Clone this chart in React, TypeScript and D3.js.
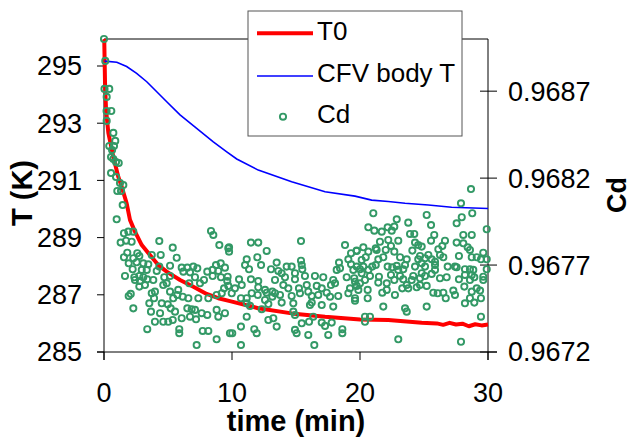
import React from 'react';
import * as d3 from 'd3';

// chart size and plot frame
const W = 634;
const H = 442;
const left = 104;
const right = 488;
const top = 39;
const bottom = 352;

const FONT = "'Liberation Sans', Arial, sans-serif";

const timeTicks = [0, 10, 20, 30];
const tempTicks = [285, 287, 289, 291, 293, 295];
const cdTicks = [0.9672, 0.9677, 0.9682, 0.9687];

// T0 (red), time in min / temperature in K
const t0Time = [0, 0.02, 0.08, 0.16, 0.34, 0.73, 1.12, 1.38, 1.77, 2.03, 2.42, 2.95, 3.59, 4.24, 4.9, 5.94, 6.98, 8.02, 8.93, 9.84, 12.05, 14.66, 17.27, 20.0, 22.21, 24.82, 26.0, 26.5, 27.0, 27.5, 28.0, 28.5, 29.0, 29.5, 30.0];
const t0Temp = [295.94, 295.91, 294.41, 293.46, 292.66, 291.82, 291.12, 290.78, 290.2, 289.62, 289.21, 288.74, 288.39, 288.04, 287.81, 287.52, 287.28, 287.03, 286.88, 286.78, 286.53, 286.35, 286.23, 286.14, 286.12, 286.02, 286.0, 285.95, 286.02, 285.96, 285.99, 285.9, 285.97, 285.93, 285.96];

// CFV body T (blue)
const bodyTime = [0.05, 1.0, 1.77, 2.55, 3.34, 4.12, 4.9, 5.94, 7.24, 8.54, 9.59, 10.37, 12.05, 14.66, 17.27, 19.61, 20.91, 22.21, 23.52, 25.34, 27.16, 30.0];
const bodyTemp = [295.17, 295.13, 294.98, 294.74, 294.45, 294.1, 293.75, 293.29, 292.82, 292.35, 292.0, 291.75, 291.36, 290.95, 290.6, 290.45, 290.31, 290.26, 290.2, 290.14, 290.06, 290.02];

// Cd (green circles), [time, Cd]
const cdData: [number, number][] = [
  [0, 0.969], [0.1, 0.968874], [0.04, 0.968713], [0.41, 0.968713], [0.21, 0.968667], [0.2, 0.968586], [0.57, 0.968586],
  [0.21, 0.968529], [0.73, 0.96846], [0.88, 0.968414], [0.41, 0.968385], [0.78, 0.968385], [0.63, 0.968362], [0.55, 0.968321],
  [0.73, 0.96831], [1.15, 0.968287], [0.94, 0.968293], [0.55, 0.968229], [0.94, 0.968206], [1.25, 0.968172], [1.04, 0.968126],
  [1.33, 0.968126], [1.51, 0.96816], [1.46, 0.968045], [0.99, 0.967963], [1.56, 0.967883], [1.9, 0.967892], [2.29, 0.967892],
  [1.3, 0.967829], [1.72, 0.96784], [2.16, 0.967834], [4.32, 0.967838], [8.36, 0.967896], [8.54, 0.967873], [5.37, 0.9678],
  [1.82, 0.967771], [2.6, 0.967768], [1.56, 0.967745], [2.29, 0.967739], [2.76, 0.967752], [3.73, 0.967758], [4.43, 0.967758],
  [5.68, 0.967742], [9.01, 0.967815], [9.71, 0.967796], [1.93, 0.96771], [2.55, 0.967716], [3.07, 0.96771], [3.46, 0.967704],
  [2.24, 0.967676], [2.95, 0.967672], [3.34, 0.967672], [4.32, 0.967691], [5.16, 0.967696], [6.07, 0.967685], [6.51, 0.967685],
  [6.98, 0.967691], [7.29, 0.967681], [8.75, 0.9677], [9.12, 0.96771], [8.49, 0.967672], [8.93, 0.967666], [9.45, 0.967685],
  [1.64, 0.967637], [2.37, 0.96763], [2.76, 0.967637], [3.07, 0.96763], [4.12, 0.967666], [6.2, 0.967662], [6.72, 0.967658],
  [8.07, 0.967662], [2.42, 0.967614], [2.81, 0.967608], [3.38, 0.967618], [3.85, 0.967614], [4.71, 0.96763], [5.16, 0.967637],
  [7.11, 0.96763], [8.49, 0.967637], [9.14, 0.96763], [2.76, 0.967576], [3.2, 0.967585], [4.63, 0.967585], [4.9, 0.967595],
  [6.66, 0.967595], [7.5, 0.967595], [7.81, 0.967614], [9.63, 0.967608], [9.38, 0.967566], [3.73, 0.967538], [3.98, 0.967547],
  [2.09, 0.967534], [1.93, 0.967522], [5.16, 0.967547], [5.8, 0.967557], [6.59, 0.967509], [7.37, 0.967509], [8.15, 0.967509],
  [8.8, 0.967528], [9.2, 0.967538], [3.54, 0.96748], [3.91, 0.967509], [4.51, 0.96748], [4.98, 0.967474], [5.41, 0.967509],
  [5.73, 0.967528], [6.15, 0.967518], [2.29, 0.967451], [3.67, 0.967432], [4.38, 0.967423], [5.21, 0.967451], [5.55, 0.967432],
  [6.51, 0.967451], [6.85, 0.967446], [7.11, 0.967442], [7.63, 0.967423], [8.07, 0.967413], [8.8, 0.967442], [8.93, 0.967403],
  [3.98, 0.967374], [4.63, 0.967374], [5.02, 0.967374], [5.37, 0.967384], [6.07, 0.967394], [6.72, 0.967403], [7.19, 0.967388],
  [3.38, 0.967331], [5.88, 0.967331], [5.88, 0.967308], [7.71, 0.967321], [8.15, 0.967321], [8.8, 0.967273], [7.24, 0.96724],
  [9.84, 0.967308],
  [15.39, 0.967838], [11.48, 0.967829], [12.05, 0.967829], [9.77, 0.967802], [9.77, 0.967777], [12.71, 0.967781], [18.83, 0.967815],
  [19.74, 0.967781], [19.3, 0.967768], [11.15, 0.967733], [11.98, 0.967745], [11.02, 0.9677], [11.33, 0.967676], [12.27, 0.9677],
  [13.49, 0.967714], [15.39, 0.967725], [15.45, 0.9677], [18.36, 0.967714], [19.09, 0.967733], [13.05, 0.967676], [13.62, 0.967666],
  [13.88, 0.967653], [14.27, 0.967691], [14.66, 0.967691], [14.92, 0.967653], [15.49, 0.967676], [19.3, 0.967704], [19.48, 0.967672],
  [18.18, 0.967672], [18.44, 0.967681], [9.66, 0.967633], [10.55, 0.967618], [11.48, 0.967618], [12.05, 0.967608], [13.36, 0.967614],
  [14.14, 0.96763], [14.92, 0.967618], [15.7, 0.967637], [16.48, 0.967637], [17.13, 0.96763], [17.91, 0.967614], [18.96, 0.96763],
  [19.55, 0.967624], [9.71, 0.96758], [10.23, 0.967566], [10.76, 0.967585], [12.05, 0.967572], [12.58, 0.967557], [13.15, 0.967547],
  [13.36, 0.967538], [14.01, 0.967585], [14.4, 0.967566], [15.23, 0.967566], [15.84, 0.967585], [16.62, 0.96758], [17.01, 0.967566],
  [17.73, 0.967585], [18.05, 0.967595], [19.22, 0.967566], [19.74, 0.96758], [9.98, 0.967538], [10.7, 0.967509], [11.15, 0.967509],
  [11.54, 0.967538], [12.01, 0.967528], [12.71, 0.967541], [13.15, 0.967518], [13.75, 0.967528], [14.66, 0.967522], [15.31, 0.967538],
  [15.96, 0.967547], [16.23, 0.967522], [16.74, 0.967528], [17.4, 0.967541], [17.66, 0.967518], [18.3, 0.967522], [19.09, 0.967538],
  [19.61, 0.967509], [11.15, 0.96748], [11.41, 0.967465], [12.58, 0.967499], [12.84, 0.967476], [13.88, 0.967484], [14.79, 0.96748],
  [16.23, 0.967484], [16.09, 0.96747], [17.01, 0.96747], [17.91, 0.967461], [12.32, 0.967446], [9.45, 0.967423], [11.15, 0.967403],
  [12.84, 0.967384], [13.23, 0.967394], [14.79, 0.967432], [14.92, 0.967413], [15.45, 0.967365], [16.02, 0.967374], [16.35, 0.967403],
  [17.01, 0.967369], [17.27, 0.96735], [17.79, 0.967369], [10.7, 0.967346], [11.74, 0.967331], [11.93, 0.967308], [13.49, 0.967346],
  [14.92, 0.967327], [15.05, 0.967308], [15.96, 0.967298], [17.52, 0.967298], [18.62, 0.967331], [18.62, 0.967308], [10.02, 0.967308],
  [10.7, 0.96724], [16.43, 0.96724],
  [28.67, 0.968137], [27.89, 0.968055], [28.77, 0.967998], [21.04, 0.967998], [25.21, 0.967988], [22.87, 0.967963], [27.55, 0.96794],
  [27.95, 0.967975], [25.55, 0.96793], [23.77, 0.967944], [29.9, 0.967906], [20.65, 0.967917], [21.12, 0.967898], [21.7, 0.967892],
  [22.16, 0.967917], [22.48, 0.967898], [22.68, 0.967921], [23.91, 0.967879], [24.24, 0.967879], [28.07, 0.967873], [28.73, 0.967873],
  [25.8, 0.967873], [21.56, 0.967834], [22.21, 0.967844], [22.99, 0.96784], [24.3, 0.967829], [24.55, 0.967815], [25.55, 0.96784],
  [26.64, 0.96784], [26.43, 0.96781], [27.55, 0.967829], [28.07, 0.967825], [28.41, 0.967802], [28.59, 0.967787], [19.74, 0.967783],
  [20.26, 0.967802], [20.65, 0.967777], [21.23, 0.967796], [21.3, 0.967787], [22.01, 0.967787], [22.68, 0.967777], [22.42, 0.96781],
  [24.09, 0.967783], [24.82, 0.967806], [26.12, 0.967791], [26.25, 0.967758], [26.51, 0.967745], [25.34, 0.967758], [25.08, 0.967739],
  [27.73, 0.967752], [29.12, 0.967745], [29.63, 0.967771], [29.45, 0.967733], [29.9, 0.967733], [20.13, 0.967729], [20.45, 0.967745],
  [21.43, 0.967733], [21.82, 0.967745], [23.13, 0.967745], [23.65, 0.967733], [24.55, 0.967733], [24.69, 0.967752], [25.6, 0.967733],
  [25.86, 0.967719], [28.73, 0.967745], [19.74, 0.967691], [20.0, 0.967676], [20.26, 0.967691], [20.96, 0.967691], [21.23, 0.9677],
  [20.65, 0.967672], [22.16, 0.967691], [22.52, 0.967687], [22.87, 0.967695], [23.52, 0.9677], [23.38, 0.967676], [22.99, 0.967672],
  [24.3, 0.967691], [24.82, 0.96771], [25.08, 0.967691], [25.86, 0.9677], [25.86, 0.967672], [26.85, 0.967691], [27.42, 0.967691],
  [27.55, 0.967687], [28.2, 0.967676], [28.59, 0.967676], [28.85, 0.967672], [20.13, 0.967653], [20.78, 0.967637], [21.48, 0.967633],
  [22.42, 0.967643], [23.13, 0.967637], [24.16, 0.967637], [24.82, 0.967653], [25.08, 0.967637], [25.6, 0.967649], [28.2, 0.967643],
  [28.73, 0.967643], [29.63, 0.967633], [29.9, 0.967676], [19.61, 0.967604], [20.0, 0.967595], [20.39, 0.967614], [21.43, 0.967599],
  [22.09, 0.967595], [22.68, 0.967614], [23.38, 0.967618], [23.65, 0.967585], [24.04, 0.967614], [24.69, 0.967624], [26.25, 0.967624],
  [26.77, 0.96763], [27.73, 0.967618], [28.59, 0.967614], [28.93, 0.96763], [29.63, 0.967614], [19.87, 0.967557], [20.6, 0.967557],
  [21.74, 0.967541], [22.09, 0.967557], [22.73, 0.967528], [23.3, 0.967566], [23.77, 0.967566], [24.43, 0.967572], [24.69, 0.967585],
  [25.21, 0.96758], [25.73, 0.967541], [26.07, 0.967538], [26.51, 0.967541], [26.7, 0.967509], [27.29, 0.967553], [27.42, 0.967528],
  [28.15, 0.967576], [28.73, 0.967547], [29.12, 0.967566], [29.38, 0.967553], [20.6, 0.967509], [19.61, 0.967495], [28.2, 0.96748],
  [28.59, 0.967509], [28.93, 0.967484], [29.45, 0.967509], [21.82, 0.967461], [23.52, 0.967451], [23.65, 0.967432], [25.21, 0.967461],
  [29.45, 0.967403], [20.39, 0.967403], [20.78, 0.967403], [20.39, 0.967374], [22.99, 0.967273], [27.89, 0.967259],
];

const legendItems = ['T0', 'CFV body T', 'Cd'];

export default function App() {
  const x = d3.scaleLinear([0, 30], [left, right]);
  const yT = d3.scaleLinear([285, 295], [bottom, 66]);
  const yCd = d3.scaleLinear([0.9672, 0.969], [bottom, top]);

  const t0Line = d3
    .line<number>()
    .x((d, i) => x(t0Time[i]))
    .y((d) => yT(d))(t0Temp);
  const bodyLine = d3
    .line<number>()
    .x((d, i) => x(bodyTime[i]))
    .y((d) => yT(d))(bodyTemp);

  const tickFont = 27;
  const green = '#339966';
  const markR = 3.1;
  const markW = 1.9;

  return (
    <svg
      width={W}
      height={H}
      viewBox={`0 0 ${W} ${H}`}
      style={{ position: 'absolute', left: 0, top: 0, background: '#fff' }}
      fontFamily={FONT}
    >
      {/* frame */}
      <line x1={left} x2={right} y1={top} y2={top} stroke="#000" />
      <line x1={left} x2={left} y1={top} y2={360} stroke="#000" />
      <line x1={right} x2={right} y1={top} y2={360} stroke="#000" />
      <line x1={97} x2={497} y1={bottom} y2={bottom} stroke="#000" />

      {/* left axis */}
      {tempTicks.map((t) => (
        <g key={'l' + t}>
          <line x1={97} x2={left} y1={yT(t)} y2={yT(t)} stroke="#000" />
          <text x={82} y={yT(t)} dy="0.35em" textAnchor="end" fontSize={tickFont}>
            {t}
          </text>
        </g>
      ))}

      {/* right axis */}
      {cdTicks.map((c) => (
        <g key={'r' + c}>
          <line x1={480} x2={497} y1={yCd(c)} y2={yCd(c)} stroke="#000" />
          <text x={508} y={yCd(c)} dy="0.35em" fontSize={tickFont}>
            {c.toFixed(4)}
          </text>
        </g>
      ))}

      {/* bottom axis */}
      {timeTicks.map((t) => (
        <g key={'b' + t}>
          <line x1={x(t)} x2={x(t)} y1={bottom} y2={360} stroke="#000" />
          <text x={x(t)} y={402} textAnchor="middle" fontSize={tickFont}>
            {t}
          </text>
        </g>
      ))}

      {/* axis titles */}
      <text x={(left + right) / 2} y={431} textAnchor="middle" fontSize={29} fontWeight="bold">
        time (min)
      </text>
      <text transform="translate(32,193) rotate(-90)" textAnchor="middle" fontSize={29} fontWeight="bold">
        T (K)
      </text>
      <text transform="translate(626,195) rotate(-90)" textAnchor="middle" fontSize={27} fontWeight="bold">
        Cd
      </text>

      {/* series */}
      <path d={t0Line ?? ''} fill="none" stroke="#ff0000" strokeWidth={4} strokeLinejoin="round" />
      <path d={bodyLine ?? ''} fill="none" stroke="#0000ff" strokeWidth={1.6} />
      {cdData.map(([t, c], i) => (
        <circle key={i} cx={x(t)} cy={yCd(c)} r={markR} fill="none" stroke={green} strokeWidth={markW} />
      ))}

      {/* legend */}
      <rect x={248} y={11} width={214} height={125} fill="#fff" stroke="#555" />
      {legendItems.map((name, i) => {
        const cy = [33.3, 76, 116.7][i];
        const base = [40, 82, 123][i];
        return (
          <g key={name}>
            {i === 0 && <line x1={257} x2={313} y1={cy} y2={cy} stroke="#ff0000" strokeWidth={4} />}
            {i === 1 && <line x1={257} x2={313} y1={cy} y2={cy} stroke="#0000ff" strokeWidth={1.6} />}
            {i === 2 && <circle cx={283} cy={cy} r={markR} fill="none" stroke={green} strokeWidth={markW} />}
            <text x={317} y={base} fontSize={26}>
              {name}
            </text>
          </g>
        );
      })}
    </svg>
  );
}
